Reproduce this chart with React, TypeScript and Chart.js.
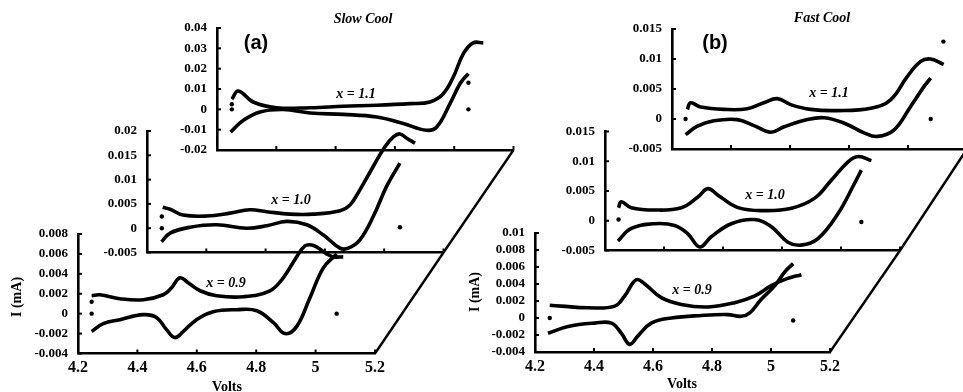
import React, { useEffect, useRef } from "react";
import { Chart, registerables } from "chart.js";
Chart.register(...registerables);

// ---------------- data ----------------
const X_TICKS = [4.2, 4.4, 4.6, 4.8, 5.0, 5.2];

// Slow cool, x = 1.1
const A11_UP_V = [4.250, 4.272, 4.322, 4.401, 4.514, 4.626, 4.739, 4.851, 4.918, 4.963, 4.997, 5.031, 5.064, 5.098];
const A11_UP_I = [0.0050, 0.0090, 0.0036, 0.0008, 0.0008, 0.0015, 0.0020, 0.0028, 0.0036, 0.0077, 0.0159, 0.0274, 0.0327, 0.0327];
const A11_DN_V = [4.246, 4.289, 4.345, 4.424, 4.514, 4.626, 4.739, 4.828, 4.907, 4.941, 4.986, 5.020, 5.048];
const A11_DN_I = [-0.0112, -0.0054, -0.0013, -0.0001, -0.0018, -0.0025, -0.0038, -0.0070, -0.0103, -0.0087, 0.0028, 0.0127, 0.0176];
const A11_DOT_V = [4.25, 4.25, 5.048, 5.048];
const A11_DOT_I = [0.0025, 0, 0.0131, 0];
const A11_Y_TICKS = [-0.02, -0.01, 0, 0.01, 0.02, 0.03, 0.04];

// Slow cool, x = 1.0
const A10_UP_V = [4.253, 4.278, 4.322, 4.401, 4.480, 4.547, 4.604, 4.682, 4.761, 4.851, 4.885, 4.918, 4.963, 5.003, 5.031, 5.053, 5.076, 5.104];
const A10_UP_I = [0.0043, 0.0039, 0.0027, 0.0025, 0.0031, 0.0038, 0.0034, 0.0029, 0.0029, 0.0036, 0.0048, 0.0079, 0.0127, 0.0168, 0.0188, 0.0194, 0.0185, 0.0175];
const A10_DN_V = [4.249, 4.278, 4.345, 4.435, 4.536, 4.604, 4.671, 4.739, 4.795, 4.851, 4.879, 4.918, 4.963, 5.008, 5.053];
const A10_DN_I = [-0.0028, -0.0010, 0.0002, 0.0007, 0.0000, 0.0005, 0.0014, 0.0007, -0.0014, -0.0041, -0.0041, -0.0024, 0.0024, 0.0086, 0.0134];
const A10_DOT_V = [4.25, 4.25, 5.053];
const A10_DOT_I = [0.0024, 0, 0.0002];
const A10_Y_TICKS = [-0.005, 0, 0.005, 0.01, 0.015, 0.02];

// Slow cool, x = 0.9
const A09_UP_V = [4.246, 4.274, 4.341, 4.420, 4.487, 4.515, 4.543, 4.571, 4.611, 4.667, 4.757, 4.846, 4.891, 4.936, 4.964, 4.987, 5.009, 5.037, 5.060, 5.093];
const A09_UP_I = [0.0018, 0.0019, 0.0015, 0.0014, 0.0019, 0.0026, 0.0036, 0.0031, 0.0023, 0.0018, 0.0017, 0.0023, 0.0036, 0.0057, 0.0068, 0.0069, 0.0066, 0.0060, 0.0057, 0.0057];
const A09_DN_V = [4.246, 4.285, 4.341, 4.420, 4.465, 4.498, 4.526, 4.554, 4.599, 4.655, 4.734, 4.802, 4.858, 4.897, 4.936, 4.981, 5.026, 5.071];
const A09_DN_I = [-0.0018, -0.0010, -0.0006, -0.0001, -0.0004, -0.0016, -0.0024, -0.0018, -0.0006, 0.0002, 0.0004, 0.0003, -0.0009, -0.0020, -0.0013, 0.0016, 0.0046, 0.0060];
const A09_DOT_V = [4.246, 4.246, 5.071];
const A09_DOT_I = [0.0012, 0, 0];
const A09_Y_TICKS = [-0.004, -0.002, 0, 0.002, 0.004, 0.006, 0.008];

// Fast cool, x = 1.1
const B11_UP_V = [4.252, 4.263, 4.297, 4.376, 4.455, 4.511, 4.557, 4.602, 4.670, 4.760, 4.874, 4.941, 4.998, 5.043, 5.077, 5.121];
const B11_UP_I = [0.0016, 0.0027, 0.0020, 0.0016, 0.0017, 0.0027, 0.0034, 0.0024, 0.0016, 0.0014, 0.0018, 0.0032, 0.0071, 0.0096, 0.0100, 0.0091];
const B11_DN_V = [4.246, 4.286, 4.342, 4.421, 4.478, 4.535, 4.580, 4.659, 4.716, 4.784, 4.851, 4.896, 4.953, 5.009, 5.054, 5.077];
const B11_DN_I = [-0.0026, -0.0012, -0.0003, -0.0001, -0.0011, -0.0022, -0.0013, -0.0001, 0.0002, -0.0007, -0.0023, -0.0029, -0.0018, 0.0021, 0.0054, 0.0068];
const B11_DOT_V = [4.246, 5.12, 5.077];
const B11_DOT_I = [0, 0.0129, 0];
const B11_Y_TICKS = [-0.005, 0, 0.005, 0.01, 0.015];

// Fast cool, x = 1.0
const B10_UP_V = [4.246, 4.255, 4.289, 4.368, 4.459, 4.515, 4.549, 4.583, 4.651, 4.741, 4.832, 4.911, 4.967, 5.024, 5.058, 5.103];
const B10_UP_I = [0.0022, 0.0032, 0.0022, 0.0018, 0.0022, 0.0040, 0.0054, 0.0043, 0.0022, 0.0017, 0.0021, 0.0038, 0.0068, 0.0099, 0.0108, 0.0101];
const B10_DN_V = [4.244, 4.289, 4.368, 4.436, 4.481, 4.521, 4.560, 4.628, 4.707, 4.764, 4.820, 4.865, 4.922, 4.990, 5.046, 5.069];
const B10_DN_I = [-0.0034, -0.0013, -0.0005, -0.0008, -0.0022, -0.0044, -0.0027, -0.0005, 0.0002, -0.0010, -0.0036, -0.0041, -0.0030, 0.0012, 0.0063, 0.0085];
const B10_DOT_V = [4.246, 5.069];
const B10_DOT_I = [0.0002, -0.0002];
const B10_Y_TICKS = [-0.005, 0, 0.005, 0.01, 0.015];

// Fast cool, x = 0.9
const B09_UP_V = [4.250, 4.289, 4.380, 4.470, 4.504, 4.543, 4.572, 4.628, 4.696, 4.786, 4.877, 4.945, 5.001, 5.052, 5.103];
const B09_UP_I = [0.0015, 0.0014, 0.0012, 0.0014, 0.0026, 0.0045, 0.0040, 0.0024, 0.0016, 0.0013, 0.0018, 0.0026, 0.0038, 0.0046, 0.0051];
const B09_DN_V = [4.244, 4.312, 4.402, 4.459, 4.493, 4.521, 4.549, 4.594, 4.662, 4.764, 4.854, 4.899, 4.928, 4.967, 5.013, 5.046, 5.075];
const B09_DN_I = [-0.0018, -0.0010, -0.0006, -0.0006, -0.0018, -0.0031, -0.0021, -0.0006, 0.0000, 0.0003, 0.0004, 0.0002, 0.0006, 0.0022, 0.0038, 0.0054, 0.0064];
const B09_DOT_V = [4.250, 5.075];
const B09_DOT_I = [0, -0.0003];
const B09_Y_TICKS = [-0.004, -0.002, 0, 0.002, 0.004, 0.006, 0.008, 0.01];

// ---------------- layout ----------------
const CW = 1000;
const CH = 392;
const YW = 60;
const XH = 30;

type Box = { l: number; r: number; t: number; b: number };
const BOX_A11: Box = { l: 217, r: 513.5, t: 28, b: 150 };
const BOX_A10: Box = { l: 147, r: 443.5, t: 131, b: 252.5 };
const BOX_A09: Box = { l: 78, r: 375, t: 234, b: 353.5 };
const BOX_B11: Box = { l: 672, r: 967, t: 29, b: 149 };
const BOX_B10: Box = { l: 605, r: 900, t: 131.5, b: 250.5 };
const BOX_B09: Box = { l: 535, r: 830, t: 233, b: 352 };

const SERIF = "'Liberation Serif', 'DejaVu Serif', serif";
const SANS = "'Liberation Sans', Arial, sans-serif";

const fmt = (v: number) => String(Number(Number(v).toFixed(4)));

const pts = (V: number[], I: number[]) => V.map((v, i) => ({ x: v, y: I[i] }));

const axisDeco = {
  id: "axisDeco",
  afterDraw(chart: any, _args: any, opts: any) {
    const { ctx, chartArea: ca, scales } = chart;
    ctx.save();
    ctx.strokeStyle = "#000";
    ctx.lineWidth = 2;
    const xs = scales.x;
    const ys = scales.y;
    xs.ticks.forEach((t: any) => {
      const px = xs.getPixelForValue(t.value);
      ctx.beginPath();
      ctx.moveTo(px, ca.bottom);
      ctx.lineTo(px, ca.bottom - 4);
      ctx.stroke();
    });
    ys.ticks.forEach((t: any) => {
      const py = ys.getPixelForValue(t.value);
      ctx.beginPath();
      ctx.moveTo(ca.left, py);
      ctx.lineTo(ca.left + 4, py);
      ctx.stroke();
    });
    if (opts && opts.floor) {
      ctx.lineWidth = 2.4;
      ctx.beginPath();
      ctx.moveTo(ca.right, ca.bottom);
      ctx.lineTo(ca.right + opts.floor.dx, ca.bottom + opts.floor.dy);
      ctx.stroke();
    }
    ctx.restore();
  },
};

type PanelProps = {
  box: Box;
  yTicks: number[];
  xLabels: boolean;
  upV: number[];
  upI: number[];
  dnV: number[];
  dnI: number[];
  dotV: number[];
  dotI: number[];
  floorTo?: Box;
};

function Panel(p: PanelProps) {
  const ref = useRef<HTMLCanvasElement | null>(null);
  useEffect(() => {
    if (!ref.current) return;
    const yMin = Math.min(...p.yTicks);
    const yMax = Math.max(...p.yTicks);
    const floor = p.floorTo ? { dx: p.floorTo.r - p.box.r, dy: p.floorTo.b - p.box.b } : null;
    const lineDs = (V: number[], I: number[]) => ({
      data: pts(V, I),
      borderColor: "#000",
      borderWidth: 3.6,
      pointRadius: 0,
      tension: 0.4,
      fill: false,
      clip: false as any,
    });
    const chart = new Chart(ref.current, {
      type: "line",
      data: {
        datasets: [
          lineDs(p.upV, p.upI) as any,
          lineDs(p.dnV, p.dnI) as any,
          {
            data: pts(p.dotV, p.dotI),
            showLine: false,
            pointRadius: 2.2,
            pointBackgroundColor: "#000",
            pointBorderWidth: 0,
            clip: false,
          } as any,
        ],
      },
      options: {
        responsive: false,
        animation: false,
        layout: {
          padding: { left: p.box.l - YW, right: CW - p.box.r, top: p.box.t, bottom: CH - p.box.b - XH },
        },
        plugins: {
          legend: { display: false },
          tooltip: { enabled: false },
          axisDeco: { floor },
        } as any,
        scales: {
          x: {
            type: "linear",
            min: 4.2,
            max: 5.2,
            afterBuildTicks: (s: any) => {
              s.ticks = X_TICKS.map((v) => ({ value: v }));
            },
            afterFit: (s: any) => {
              s.height = XH;
            },
            grid: { display: false, drawTicks: false },
            border: { display: true, color: "#000", width: 2.6 },
            ticks: {
              display: p.xLabels,
              autoSkip: false,
              maxRotation: 0,
              padding: 5,
              color: "#000",
              font: { family: SERIF, weight: "bold", size: 16 },
              callback: (v: any) => fmt(v),
            },
          },
          y: {
            type: "linear",
            min: yMin,
            max: yMax,
            afterBuildTicks: (s: any) => {
              s.ticks = p.yTicks.map((v) => ({ value: v }));
            },
            afterFit: (s: any) => {
              s.width = YW;
            },
            grid: { display: false, drawTicks: false },
            border: { display: true, color: "#000", width: 2.6 },
            ticks: {
              autoSkip: false,
              padding: 10,
              color: "#000",
              font: { family: SERIF, weight: "bold", size: 13 },
              callback: (v: any) => fmt(v),
            },
          },
        },
      } as any,
      plugins: [axisDeco],
    });
    return () => chart.destroy();
  }, []);
  return (
    <canvas
      ref={ref}
      width={CW}
      height={CH}
      style={{ position: "absolute", left: 0, top: 0, width: CW, height: CH }}
    />
  );
}

function Label(props: { x: number; y: number; text: string; font: string; size: number; weight?: string; italic?: boolean; rotate?: boolean }) {
  return (
    <div
      style={{
        position: "absolute",
        left: props.x,
        top: props.y,
        transform: `translate(-50%, -50%)${props.rotate ? " rotate(-90deg)" : ""}`,
        fontFamily: props.font,
        fontSize: props.size,
        fontWeight: (props.weight || "bold") as any,
        fontStyle: props.italic ? "italic" : "normal",
        whiteSpace: "nowrap",
        lineHeight: 1,
        color: "#000",
      }}
    >
      {props.text}
    </div>
  );
}

export default function App() {
  return (
    <div
      style={{
        position: "fixed",
        left: 0,
        top: 0,
        width: 963,
        height: 392,
        overflow: "hidden",
        background: "#fff",
      }}
    >
      <Panel box={BOX_A11} yTicks={A11_Y_TICKS} xLabels={false} upV={A11_UP_V} upI={A11_UP_I} dnV={A11_DN_V} dnI={A11_DN_I} dotV={A11_DOT_V} dotI={A11_DOT_I} />
      <Panel box={BOX_A10} yTicks={A10_Y_TICKS} xLabels={false} upV={A10_UP_V} upI={A10_UP_I} dnV={A10_DN_V} dnI={A10_DN_I} dotV={A10_DOT_V} dotI={A10_DOT_I} floorTo={BOX_A11} />
      <Panel box={BOX_A09} yTicks={A09_Y_TICKS} xLabels={true} upV={A09_UP_V} upI={A09_UP_I} dnV={A09_DN_V} dnI={A09_DN_I} dotV={A09_DOT_V} dotI={A09_DOT_I} floorTo={BOX_A10} />
      <Panel box={BOX_B11} yTicks={B11_Y_TICKS} xLabels={false} upV={B11_UP_V} upI={B11_UP_I} dnV={B11_DN_V} dnI={B11_DN_I} dotV={B11_DOT_V} dotI={B11_DOT_I} />
      <Panel box={BOX_B10} yTicks={B10_Y_TICKS} xLabels={false} upV={B10_UP_V} upI={B10_UP_I} dnV={B10_DN_V} dnI={B10_DN_I} dotV={B10_DOT_V} dotI={B10_DOT_I} floorTo={BOX_B11} />
      <Panel box={BOX_B09} yTicks={B09_Y_TICKS} xLabels={true} upV={B09_UP_V} upI={B09_UP_I} dnV={B09_DN_V} dnI={B09_DN_I} dotV={B09_DOT_V} dotI={B09_DOT_I} floorTo={BOX_B10} />

      <Label x={363} y={19} text="Slow Cool" font={SERIF} size={14} italic />
      <Label x={822} y={18} text="Fast Cool" font={SERIF} size={14} italic />
      <Label x={256} y={42} text="(a)" font={SANS} size={20} />
      <Label x={715} y={42} text="(b)" font={SANS} size={20} />

      <Label x={356} y={94} text="x = 1.1" font={SERIF} size={14} italic />
      <Label x={291} y={200} text="x = 1.0" font={SERIF} size={14} italic />
      <Label x={226} y={283} text="x = 0.9" font={SERIF} size={14} italic />
      <Label x={829} y={93} text="x = 1.1" font={SERIF} size={14} italic />
      <Label x={765} y={195} text="x = 1.0" font={SERIF} size={14} italic />
      <Label x={692} y={290} text="x = 0.9" font={SERIF} size={14} italic />

      <Label x={227} y={387} text="Volts" font={SERIF} size={14} />
      <Label x={682} y={384} text="Volts" font={SERIF} size={14} />
      <Label x={17} y={297} text="I (mA)" font={SERIF} size={14} rotate />
      <Label x={475} y={292} text="I (mA)" font={SERIF} size={14} rotate />
    </div>
  );
}
